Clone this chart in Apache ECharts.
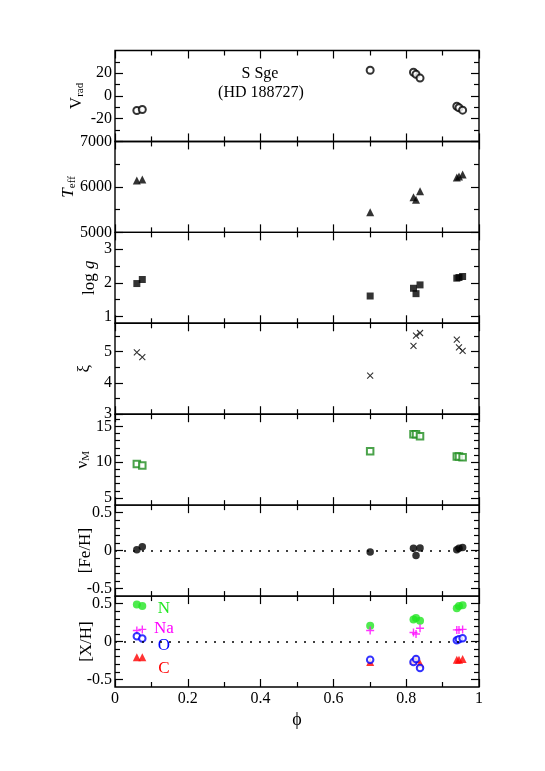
<!DOCTYPE html>
<html><head><meta charset="utf-8">
<script src="https://cdn.jsdelivr.net/npm/echarts@6/dist/echarts.min.js"></script>
<style>html,body{margin:0;padding:0;background:#fff}#c{width:545px;height:771px}</style>
</head><body><div id="c"></div>
<script>
// ---- data ----
const phase = [0.060, 0.075, 0.701, 0.820, 0.827, 0.838, 0.939, 0.945, 0.955];
const vrad  = [-12.8, -11.9, 22.6, 20.9, 19.1, 15.7, -9.0, -10.4, -12.5];
const teff  = [6140, 6160, 5440, 5770, 5717, 5906, 6205, 6227, 6270];
const logg  = [1.98, 2.10, 1.61, 1.84, 1.68, 1.94, 2.14, 2.16, 2.19];
const xi    = [4.97, 4.82, 4.23, 5.18, 5.51, 5.59, 5.38, 5.13, 5.02];
const vmicro= [9.76, 9.53, 11.54, 13.9, 13.9, 13.63, 10.78, 10.78, 10.70];
const feh   = [0.013, 0.05, -0.017, 0.03, -0.065, 0.035, 0.01, 0.03, 0.04];
const nh    = [0.49, 0.47, 0.21, 0.29, 0.31, 0.276, 0.44, 0.47, 0.48];
const nah   = [0.145, 0.16, 0.145, 0.12, 0.10, 0.175, 0.154, 0.154, 0.16];
const oh    = [0.07, 0.04, -0.24, -0.27, -0.23, -0.35, 0.017, 0.03, 0.043];
const ch    = [-0.206, -0.206, -0.27, -0.25, -0.23, -0.29, -0.24, -0.24, -0.23];

const xTickLabels = [0, 0.2, 0.4, 0.6, 0.8, 1];
const yMajor = [[-20,0,20],[5000,6000,7000],[1,2,3],[3,4,5],[5,10,15],[-0.5,0,0.5],[-0.5,0,0.5]];
const yMinor = [[-30,-10,10,30],[5500,6500],[1.5,2.5],[3.5,4.5,5.5],
  [6,7,8,9,11,12,13,14,16],
  [-0.4,-0.3,-0.2,-0.1,0.1,0.2,0.3,0.4],[-0.4,-0.3,-0.2,-0.1,0.1,0.2,0.3,0.4]];
const yRange = [[-40,40],[5000,7000],[0.8,3.5],[3,5.9],[4,16.7],[-0.6,0.6],[-0.6,0.6]];
const yNames = ['{m|V}{s|rad}','{i|T}{s|eff}','log {i|g}','ξ','{m|ν}{s|M}','[Fe/H]','[X/H]'];
const legendText = ['N','Na','O','C'];

// ---- layout ----
const FONT = '"Liberation Serif","Times New Roman",serif';
const L = 115, W = 364, T0 = 50.5, H = 90.93;
const nameGaps = [29, 37, 17, 22, 23, 21, 20];
const rich = {
  m:{fontFamily:FONT,fontSize:17,color:'#000'},
  i:{fontFamily:FONT,fontSize:17,fontStyle:'italic',color:'#000'},
  s:{fontFamily:FONT,fontSize:11,color:'#000',padding:[7,0,0,0]}
};
const plain = v => String(v);

const grids=[], xAxes=[], yAxes=[], series=[];
for (let p=0;p<7;p++){
  grids.push({left:L, top:T0+p*H, width:W, height:H, show:true, borderColor:'#000', borderWidth:1.4, backgroundColor:'transparent', outerBoundsMode:'none'});
  const last = p===6;
  ['bottom','top'].forEach((pos,k)=>{
    xAxes.push({type:'value', gridIndex:p, position:pos, min:0, max:1, interval:0.2,
      axisLine:{show:false, onZero:false}, splitLine:{show:false},
      axisTick:{show:true, inside:true, length:8, lineStyle:{color:'#000',width:1.2}},
      minorTick:{show:true, splitNumber:2, length:5, lineStyle:{color:'#000',width:1.2}},
      axisLabel:{show: last && k===0, margin:4, fontFamily:FONT, fontSize:16, color:'#000',
        customValues: xTickLabels, formatter: plain},
      name: (last && k===0) ? 'ϕ' : '', nameLocation:'middle', nameGap:24, nameMoveOverlap:false,
      nameTextStyle:{fontFamily:FONT, fontSize:18, color:'#000'}
    });
  });
  const [mn,mx] = yRange[p];
  ['left','right'].forEach(pos=>{
    yAxes.push({type:'value', gridIndex:p, position:pos, min:mn, max:mx,
      axisLine:{show:false, onZero:false}, splitLine:{show:false},
      axisTick:{show:true, inside:true, length:8, customValues:yMajor[p], lineStyle:{color:'#000',width:1.2}},
      axisLabel:{show: pos==='left', margin:3, customValues:yMajor[p], formatter: plain, fontFamily:FONT, fontSize:16, color:'#000'},
      name: pos==='left' ? yNames[p] : '', nameLocation:'middle', nameRotate:90, nameGap:nameGaps[p], nameMoveOverlap:false,
      nameTextStyle:{fontFamily:FONT, fontSize:17, color:'#000', rich:rich}
    });
    yAxes.push({type:'value', gridIndex:p, position:pos, min:mn, max:mx,
      axisLine:{show:false, onZero:false}, splitLine:{show:false},
      axisTick:{show:true, inside:true, length:5, customValues:yMinor[p], lineStyle:{color:'#000',width:1.2}},
      axisLabel:{show:false}
    });
  });
}
const pairs = arr => phase.map((x,i)=>[x, arr[i]]);
function sc(p, arr, symbol, size, style, extra){
  return Object.assign({type:'scatter', xAxisIndex:2*p, yAxisIndex:4*p, data:pairs(arr),
    symbol:symbol, symbolSize:size, itemStyle:style, silent:true, z:3}, extra||{});
}
const dotted = {markLine:{silent:true, symbol:'none', label:{show:false},
  lineStyle:{type:[2,7], color:'#000', width:1.5}, data:[{yAxis:0}]}};
const CROSS='path://M0,0L10,10M0,10L10,0', PLUS='path://M5,0L5,10M0,5L10,5';

series.push(sc(0, vrad, 'emptyCircle', 7, {color:'#000', borderColor:'#000', borderWidth:0.9}));
series.push(sc(1, teff, 'triangle', 8, {color:'#000'}));
series.push(sc(2, logg, 'rect', 7, {color:'#000'}));
series.push(sc(3, xi, CROSS, 6, {color:'#000', borderColor:'#000', borderWidth:1.1}));
series.push(sc(4, vmicro, 'emptyRect', 6.5, {color:'#1e8c1e', borderColor:'#1e8c1e', borderWidth:1.2}));
series.push(sc(5, feh, 'circle', 7.5, {color:'#000'}, dotted));
series.push(sc(6, ch, 'triangle', 8, {color:'#ff0000'}, dotted));
series.push(sc(6, nh, 'circle', 8, {color:'#22e622'}));
series.push(sc(6, nah, PLUS, 8, {color:'#ff00ff', borderColor:'#ff00ff', borderWidth:1.4}));
series.push(sc(6, oh, 'emptyCircle', 6.5, {color:'#0000ff', borderColor:'#0000ff', borderWidth:1.5}));

const legendColors = ['#22e622','#ff00ff','#0000ff','#ff0000'];
const legendY = [609, 629, 646, 669];
const graphics = [
  {type:'text', style:{text:'S Sge', x:260, y:74, align:'center', verticalAlign:'middle', font:'16px '+FONT, fill:'#000'}},
  {type:'text', style:{text:'(HD 188727)', x:261, y:93, align:'center', verticalAlign:'middle', font:'16px '+FONT, fill:'#000'}}
];
legendText.forEach((t,i)=>graphics.push({type:'text', style:{text:t, x:164, y:legendY[i], align:'center', verticalAlign:'middle', font:'17px '+FONT, fill:legendColors[i]}}));

const chart = echarts.init(document.getElementById('c'));
chart.setOption({animation:false, backgroundColor:'#fff', grid:grids, xAxis:xAxes, yAxis:yAxes, series:series, graphic:graphics});
</script></body></html>
